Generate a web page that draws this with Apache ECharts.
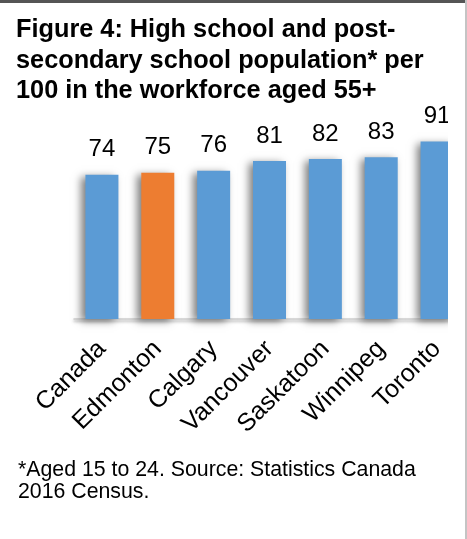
<!DOCTYPE html>
<html>
<head>
<meta charset="utf-8">
<script src="https://cdn.jsdelivr.net/npm/echarts@6/dist/echarts.min.js"></script>
<style>
html,body{margin:0;padding:0;background:#fff;}
#chart{width:467px;height:539px;}
</style>
</head>
<body>
<div id="chart"></div>
<script>
var categories = ["Canada", "Edmonton", "Calgary", "Vancouver", "Saskatoon", "Winnipeg", "Toronto"];
var values = [74, 75, 76, 81, 82, 83, 91];
var highlight = "Edmonton";
var titleText = "Figure 4: High school and post-\nsecondary school population* per\n100 in the workforce aged 55+";
var noteText = "*Aged 15 to 24. Source: Statistics Canada\n2016 Census.";

var BLUE = "#5B9BD5", ORANGE = "#ED7D31";
var FONT = "'Liberation Sans', Arial, sans-serif";

var chart = echarts.init(document.getElementById("chart"), null, {renderer: "canvas"});
chart.setOption({
  animation: false,
  backgroundColor: "#fff",
  title: [
    {text: titleText, left: 16, top: 15, padding: 0,
     textStyle: {fontFamily: FONT, fontSize: 25.3, fontWeight: "bold", color: "#000", lineHeight: 30.5}},
    {text: noteText, left: 18, top: 459, padding: 0,
     textStyle: {fontFamily: FONT, fontSize: 21.3, fontWeight: "normal", color: "#000", lineHeight: 22}}
  ],
  grid: {left: 74, right: 2, top: 124, bottom: 220, containLabel: false},
  xAxis: {
    type: "category", data: categories,
    axisTick: {show: false},
    axisLine: {show: true, lineStyle: {color: "#d0d0d0", width: 1.5, shadowColor: "rgba(0,0,0,0.35)", shadowBlur: 3, shadowOffsetY: 2}},
    axisLabel: {rotate: 45, margin: 26, fontFamily: FONT, fontSize: 25, color: "#000", interval: 0}
  },
  yAxis: {type: "value", min: 0, max: 100, show: false, splitLine: {show: false}},
  series: [{
    type: "bar",
    barWidth: 33,
    data: values.map(function (v, i) {
      return {value: v, itemStyle: {color: categories[i] === highlight ? ORANGE : BLUE}};
    }),
    itemStyle: {shadowColor: "rgba(0,0,0,0.5)", shadowBlur: 8, shadowOffsetX: -4, shadowOffsetY: 2},
    label: {show: true, position: "top", distance: 13, fontFamily: FONT, fontSize: 24, lineHeight: 24, color: "#000"}
  }],
  graphic: [
    {type: "rect", z: 100, shape: {x: 448, y: 3, width: 17, height: 536}, style: {fill: "#fff"}},
    {type: "rect", z: 101, shape: {x: 0, y: 0, width: 467, height: 3}, style: {fill: "#555"}},
    {type: "rect", z: 101, shape: {x: 465, y: 0, width: 2, height: 539}, style: {fill: "#c4c4c4"}}
  ]
});
</script>
</body>
</html>
